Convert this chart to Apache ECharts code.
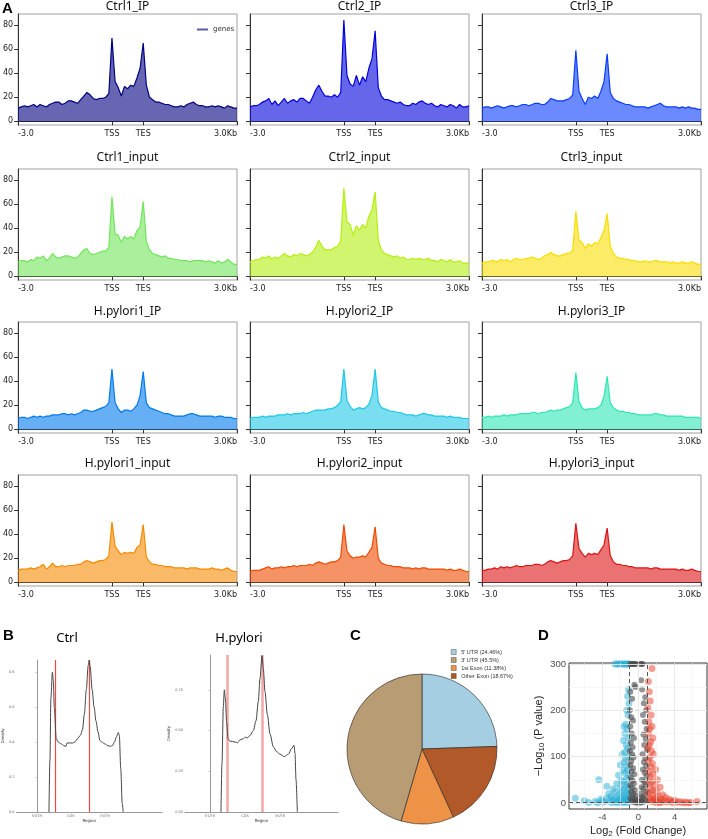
<!DOCTYPE html>
<html><head><meta charset="utf-8">
<script src="https://cdn.jsdelivr.net/npm/echarts@6/dist/echarts.min.js"></script>
<style>html,body{margin:0;padding:0;background:#fff}#c{width:708px;height:839px}</style>
</head><body><div id="c"></div>
<script>
// ---------- Panel A data ----------
const profileTicks = [0, 30, 40, 70];
const profileTickLabels = ['-3.0', 'TSS', 'TES', '3.0Kb'];
const profileYTicks = [0, 20, 40, 60, 80];
const sampleTitles = ['Ctrl1_IP','Ctrl2_IP','Ctrl3_IP','Ctrl1_input','Ctrl2_input','Ctrl3_input','H.pylori1_IP','H.pylori2_IP','H.pylori3_IP','H.pylori1_input','H.pylori2_input','H.pylori3_input'];
const ctrl1IP = [11,12,13,12,13,14,12,14,13,12, 14,15,16,16,14,15,17,17,16,15, 18,21,24,22,19,18,19,19,20,23, 69, 33,28,21,29,27,30,29,36,44, 65, 30,20,18,16,16,15,14,14,13,12, 12,13,12,14,15,16,14,13,13,12, 12,13,12,13,12,11,13,12,11,11];
const ctrl2IP = [12,13,13,14,16,17,19,14,17,13, 16,19,15,17,18,16,19,19,17,15, 20,26,30,25,21,21,20,22,20,24, 84, 38,31,29,38,30,37,33,44,52, 75, 28,21,18,18,17,16,15,16,14,13, 13,15,14,16,17,15,14,15,13,12, 14,13,12,14,13,11,14,12,12,13];
const ctrl3IP = [11,12,12,11,12,13,12,11,12,13, 13,12,13,14,14,13,14,15,15,14, 14,16,19,18,17,17,17,18,19,22, 59, 25,19,14,20,19,21,19,25,33, 56, 24,19,17,16,15,14,14,13,12,12, 12,12,11,12,13,14,15,13,12,12, 12,12,11,12,11,12,11,11,10,10];
const ctrl1Input = [12,13,13,12,14,13,16,15,17,13, 15,19,16,15,16,17,17,16,15,16, 19,22,23,19,18,19,20,21,21,24, 66, 35,34,28,33,31,33,31,38,41, 62, 29,22,19,18,17,16,17,15,15,14, 14,13,13,13,12,13,13,13,13,12, 13,12,11,13,11,12,14,12,10,10];
const ctrl2Input = [12,13,14,14,16,15,17,14,16,15, 17,19,17,16,18,17,19,18,17,18, 20,24,30,25,22,22,22,24,25,29, 73, 45,43,34,42,38,43,40,50,55, 70, 30,22,19,18,17,16,17,15,16,14, 14,15,14,15,14,14,15,13,13,12, 14,13,12,14,12,12,13,11,11,11];
const ctrl3Input = [11,12,12,13,13,12,14,13,14,12, 14,15,14,14,15,15,16,15,14,15, 17,18,20,18,17,17,18,19,19,22, 54, 30,28,23,27,25,28,27,32,38, 52, 25,19,16,15,15,14,14,13,13,12, 12,13,12,12,13,13,12,12,12,11, 12,11,11,12,11,11,12,11,10,10];
const hp1IP = [9,10,10,9,10,11,10,11,10,11, 11,12,12,12,13,13,12,13,12,13, 14,16,16,15,15,16,17,18,19,22, 50, 22,17,14,16,16,15,17,20,28, 48, 22,18,17,16,15,14,13,13,12,11, 11,11,11,12,13,13,12,11,11,11, 11,11,10,11,11,10,10,10,9,9];
const hp2IP = [9,10,10,10,11,10,11,11,11,12, 12,12,13,12,13,13,13,14,13,14, 15,16,16,16,16,17,17,18,20,23, 50, 24,19,16,17,18,17,18,21,28, 50, 23,18,17,16,15,15,14,14,13,12, 12,12,11,12,13,13,12,12,11,11, 11,11,10,11,10,10,10,9,9,9];
const hp3IP = [10,10,11,10,11,11,11,12,11,12, 12,12,13,13,13,13,14,14,13,14, 14,15,16,15,16,16,17,18,19,22, 47, 23,18,16,17,17,17,18,20,27, 44, 22,18,16,15,15,14,14,13,13,12, 12,12,12,12,13,13,12,12,11,11, 11,11,11,11,10,10,10,10,10,9];
const hp1Input = [10,11,11,11,12,11,12,13,15,11, 13,16,13,13,14,13,14,14,14,15, 15,17,18,17,16,17,18,18,19,22, 50, 30,26,23,25,24,25,24,29,31, 48, 21,17,15,15,14,14,13,13,13,12, 12,12,12,11,12,12,12,11,11,11, 11,12,11,11,10,11,12,10,9,9];
const hp2Input = [9,10,10,10,11,12,13,11,12,12, 13,12,13,13,14,13,14,14,14,15, 14,16,17,16,15,16,17,17,18,21, 48, 26,22,20,21,21,22,21,25,29, 46, 20,16,15,14,14,13,13,13,12,12, 12,11,12,11,12,12,11,11,11,11, 11,11,10,11,10,10,11,10,9,9];
const hp3Input = [10,10,11,11,12,11,13,12,13,12, 13,14,13,13,14,14,14,15,15,14, 15,17,18,17,16,17,18,18,19,22, 49, 28,24,21,24,23,24,23,27,31, 45, 22,17,15,15,14,14,13,13,12,12, 12,12,12,11,12,12,11,11,11,11, 11,11,10,11,10,10,11,10,9,9];
const profiles = [ctrl1IP, ctrl2IP, ctrl3IP, ctrl1Input, ctrl2Input, ctrl3Input, hp1IP, hp2IP, hp3IP, hp1Input, hp2Input, hp3Input];

// ---------- Panel B data ----------
const regionTicks = [0, 1, 2];
const regionTickLabels = ["5'UTR", 'CDS', "3'UTR"];
const ctrlRegionX = [0.357,0.386,0.414,0.457,0.486,0.514,0.571,0.629,0.714,0.8,0.857,0.886,0.971,1.057,1.114,1.2,1.286,1.343,1.4,1.457,1.514,1.543,1.571,1.629,1.686,1.743,1.8,1.857,1.914,2.0,2.086,2.171,2.229,2.286,2.343,2.4,2.429,2.471,2.514,2.543];
const ctrlDensity = [0,0.3,0.65,0.8,0.75,0.6,0.42,0.40,0.39,0.38,0.375,0.395,0.395,0.395,0.40,0.42,0.44,0.47,0.56,0.70,0.84,0.87,0.83,0.70,0.60,0.52,0.46,0.41,0.40,0.39,0.38,0.376,0.38,0.40,0.43,0.455,0.44,0.25,0.05,0];
const ctrlMarks = [0.543, 1.543];
const ctrlDensityTicks = [0, 0.2, 0.4, 0.6, 0.8];
const hpRegionX = [0.314,0.343,0.381,0.41,0.438,0.476,0.514,0.571,0.714,0.79,0.838,0.886,0.952,1.01,1.067,1.143,1.238,1.314,1.381,1.429,1.486,1.524,1.571,1.638,1.714,1.81,1.905,2.0,2.124,2.238,2.333,2.4,2.429,2.457,2.495];
const hpDensity = [0,0.3,0.65,0.75,0.70,0.55,0.45,0.435,0.43,0.425,0.44,0.445,0.45,0.46,0.455,0.47,0.5,0.56,0.68,0.82,0.96,0.88,0.74,0.6,0.48,0.40,0.37,0.355,0.34,0.355,0.39,0.41,0.36,0.2,0];
const hpMarks = [0.486, 1.486];
const hpDensityTicks = [0, 0.25, 0.5, 0.75];

// ---------- Panel C data ----------
const pieNames = ["5' UTR (24.46%)", "Other Exon (18.67%)", "1st Exon (11.38%)", "3' UTR (45.5%)"];
const pieValues = [24.46, 18.67, 11.38, 45.5];
const pieLegendOrder = ["5' UTR (24.46%)", "3' UTR (45.5%)", "1st Exon (11.38%)", "Other Exon (18.67%)"];

// ---------- Panel D data ----------
const volcanoXTicks = [-4, 0, 4];
const volcanoYTicks = [0, 100, 200, 300];
const volcanoXMinor = [-6, -2, 2, 6];
const volcanoYMinor = [50, 150, 250];
const foldThresholds = [-1, 1];
const pThreshold = 1.3;
const downPts = [[-2.6,300],[-2.4,300],[-2.2,300],[-2.0,300],[-1.8,300],[-1.6,300],[-1.5,300],[-1.3,300],[-1.2,300],[-1.1,300],
 [-1.1,245],[-1.2,230],[-1.05,215],[-1.3,200],[-1.15,190],[-1.4,170],[-1.6,165],[-1.25,160],[-1.5,150],[-1.1,140],[-1.7,135],[-1.35,125],[-1.2,118],[-1.5,110],[-1.8,105],[-1.1,100],[-1.4,95],[-1.6,88],[-2.0,82],[-1.3,80],[-1.2,72],[-1.7,70],[-1.5,65],[-2.2,60],[-1.1,58],[-1.35,52],[-1.9,48],[-1.6,45],[-2.4,42],[-1.25,40],[-1.45,36],[-2.0,33],[-1.15,30],[-1.7,28],[-2.6,25],[-1.3,24],[-1.9,22],[-1.05,20],[-2.2,18],[-1.5,17],[-3.0,15],[-1.2,14],[-1.8,13],[-2.5,12],[-1.4,11],[-3.5,10],[-2.0,9],[-1.1,8],[-2.8,8],[-1.6,7],[-3.2,6],[-4.0,5],[-2.3,5],[-1.3,4],[-1.9,4],[-4.8,3],[-2.7,3],[-1.5,2],[-3.8,2],[-2.1,2],[-1.2,1],[-5.5,1],[-3.0,1],[-1.7,1],[-4.5,0.5],[-2.4,0.5],
 [-4.4,50],[-3.5,36],[-7.0,10],[-6.0,5],[-4.2,8],[-3.3,20],[-2.8,30]];
const nsPts = [[-0.9,300],[-0.8,300],[-0.7,300],[-0.6,300],[-0.5,300],[-0.4,300],[-0.3,300],[0.25,300],[0.35,300],[0.45,300],
 [-0.45,255],[-0.35,250],[-0.9,240],[-0.7,225],[-0.95,200],[-0.8,185],[-0.6,178],[-0.9,165],[-0.75,150],[-0.5,140],[-0.85,130],[-0.65,120],[-0.95,112],[-0.7,105],[-0.55,98],[-0.8,90],[-0.9,82],[-0.6,75],[-0.75,68],[-0.45,62],[-0.85,55],[-0.65,48],[-0.5,42],[-0.9,38],[-0.7,33],[-0.4,28],[-0.8,24],[-0.55,20],[-0.3,16],[-0.65,13],[-0.9,10],[-0.45,8],[-0.2,6],[-0.75,5],[-0.35,3],[-0.6,2],[-0.1,1],[-0.25,0.5],
 [0.3,265],[0.4,245],[0.75,228],[0.6,215],[0.85,200],[0.5,190],[0.7,175],[0.9,160],[0.55,148],[0.8,138],[0.65,125],[0.95,115],[0.45,105],[0.75,96],[0.6,88],[0.85,80],[0.5,72],[0.7,65],[0.9,58],[0.4,50],[0.65,45],[0.8,40],[0.35,34],[0.55,30],[0.9,25],[0.25,20],[0.7,17],[0.45,13],[0.15,10],[0.6,8],[0.85,6],[0.3,4],[0.05,2],[0.5,1.5],[0.2,0.5]];
const upPts = [[1.5,290],[1.1,262],[1.2,240],[1.3,220],[1.05,205],[1.4,190],[1.15,175],[1.5,165],[1.25,160],[1.1,150],[1.6,140],[1.35,132],[1.2,125],[1.05,118],[1.45,112],[1.7,105],[1.25,98],[1.1,92],[1.55,85],[1.35,78],[1.9,72],[1.15,68],[1.6,62],[1.3,56],[2.1,50],[1.45,46],[1.2,42],[1.8,38],[2.4,34],[1.35,30],[1.6,27],[2.0,24],[1.1,21],[2.7,18],[1.5,16],[2.2,14],[3.0,12],[1.3,11],[1.9,10],[3.4,8],[2.5,8],[1.7,7],[4.0,6],[2.8,5],[1.2,5],[3.6,4],[2.1,4],[4.6,3],[1.5,3],[3.2,2],[5.2,2],[2.6,2],[4.3,1.5],[5.8,1],[6.5,3],[1.9,1],[3.8,1],[5.5,0.5],[2.3,0.5],[4.9,0.5]];

// ---------- styles ----------
const sampleColors = ['#000080','#0000dc','#0a3cff','#71e55a','#b4ee0f','#f8de00','#007aee','#1ec8e6','#2fe6b4','#f58a00','#ee4a00','#dc1414'];
const pieColors = ['#a6cee3', '#b15928', '#ee9247', '#b89c74'];
const TF = 'DejaVu Sans';

const grids = [], xAxes = [], yAxes = [], series = [], graphics = [];
const colLeft = [18, 250, 482], rowTop = [14, 169, 322, 475], titleY = [7, 158, 312, 464];
const profileBins = profiles[0].map((_, k) => String(k));

profiles.forEach((d, i) => {
  const r = Math.floor(i / 3), c = i % 3;
  grids.push({left: colLeft[c], top: rowTop[r], width: 219, height: 111, show: true, borderColor: '#888', borderWidth: 0.8});
  xAxes.push({type: 'category', gridIndex: i, data: profileBins, boundaryGap: false,
    axisLine: {lineStyle: {color: '#333', width: 1}},
    axisTick: {interval: (idx) => profileTicks.includes(idx), length: 4, lineStyle: {color: '#333'}},
    axisLabel: {interval: (idx) => profileTicks.includes(idx), formatter: (v, idx) => profileTickLabels[profileTicks.indexOf(idx)],
      fontSize: 8, color: '#222', fontFamily: TF, margin: 5, alignMinLabel: 'left', alignMaxLabel: 'right'},
    splitLine: {show: false}});
  yAxes.push({type: 'value', gridIndex: i, min: -3, max: 89,
    axisLine: {show: true, lineStyle: {color: '#333', width: 1}},
    axisTick: {show: true, customValues: profileYTicks, length: 4, lineStyle: {color: '#333'}},
    axisLabel: {show: c === 0, customValues: profileYTicks, fontSize: 8, color: '#222', fontFamily: TF, margin: 5},
    splitLine: {show: false}});
  series.push({type: 'line', name: i === 0 ? 'genes' : sampleTitles[i], xAxisIndex: i, yAxisIndex: i, data: d,
    symbol: 'none', lineStyle: {color: sampleColors[i], width: 1.2}, itemStyle: {color: sampleColors[i]},
    areaStyle: {color: sampleColors[i], opacity: 0.6}, z: 2});
  graphics.push({type: 'text', x: colLeft[c] + 109.5, y: titleY[r], silent: true,
    style: {text: sampleTitles[i], fill: '#111', font: '12px "Noto Sans"', textAlign: 'center', textVerticalAlign: 'middle'}});
});

// ---------- Panel B ----------
function densityPanel(gi, left, top, width, height, xmin, xmax, xs, ys, marks, yTicks, ymax, decimals, markStyle) {
  grids.push({left, top, width, height, show: false});
  xAxes.push({type: 'value', gridIndex: gi, min: xmin, max: xmax,
    axisLine: {show: true, lineStyle: {color: '#999', width: 1.2}},
    axisTick: {show: true, customValues: regionTicks, length: 1.5, lineStyle: {color: '#999', width: 0.5}},
    axisLabel: {customValues: regionTicks, formatter: (v) => regionTickLabels[regionTicks.indexOf(v)], fontSize: 3.5, color: '#666', margin: 2},
    splitLine: {show: false},
    name: 'Region', nameLocation: 'middle', nameGap: 6, nameTextStyle: {fontSize: 4, color: '#333'}});
  yAxes.push({type: 'value', gridIndex: gi, min: 0, max: ymax,
    axisLine: {show: true, lineStyle: {color: '#999', width: 1}},
    axisTick: {show: true, customValues: yTicks, length: 1.5, lineStyle: {color: '#999', width: 0.5}},
    axisLabel: {customValues: yTicks, formatter: (v) => v.toFixed(decimals), fontSize: 3.5, color: '#666', margin: 2},
    splitLine: {show: false},
    name: 'Density', nameLocation: 'middle', nameGap: 6, nameRotate: 90, nameTextStyle: {fontSize: 4, color: '#333'}});
  series.push({type: 'line', xAxisIndex: gi, yAxisIndex: gi, data: xs.map((x, k) => [x, ys[k]]),
    symbol: 'none', smooth: 0.3, smoothMonotone: 'x', lineStyle: {color: '#444', width: 1}, z: 3,
    markLine: {silent: true, symbol: ['none', 'none'], label: {show: false}, lineStyle: markStyle, z: 2,
      data: marks.map(m => ({xAxis: m, lineStyle: markStyle}))}});
}
densityPanel(12, 12, 660, 150, 152, -0.6, 3.686, ctrlRegionX, ctrlDensity, ctrlMarks, ctrlDensityTicks, 0.87, 1,
  {color: '#e53935', width: 1.2, type: 'solid', opacity: 0.9});
densityPanel(13, 185, 655, 153, 157, -0.714, 3.657, hpRegionX, hpDensity, hpMarks, hpDensityTicks, 0.964, 2,
  {color: '#f08a8a', width: 2.5, type: 'solid', opacity: 0.75});

// ---------- Panel D ----------
grids.push({left: 569, top: 663, width: 138, height: 149, show: true, borderColor: '#333', borderWidth: 1, backgroundColor: '#fff'});
xAxes.push({type: 'value', gridIndex: 14, min: -7.7, max: 7.6,
  axisLine: {show: false}, splitLine: {show: false},
  axisTick: {show: true, customValues: volcanoXTicks, length: 3, lineStyle: {color: '#333'}},
  axisLabel: {customValues: volcanoXTicks, fontSize: 9.5, color: '#4d4d4d', fontFamily: 'Liberation Sans', margin: 3},
  name: '{a|Log}{b|2}{a| (Fold Change)}', nameLocation: 'middle', nameGap: 15,
  nameTextStyle: {rich: {a: {fontSize: 11, color: '#222', fontFamily: 'Liberation Sans'}, b: {fontSize: 8, color: '#222', fontFamily: 'Liberation Sans', padding: [6, 0, 0, 0]}}}});
yAxes.push({type: 'value', gridIndex: 14, min: -13, max: 302,
  axisLine: {show: false}, splitLine: {show: false},
  axisTick: {show: true, customValues: volcanoYTicks, length: 3, lineStyle: {color: '#333'}},
  axisLabel: {customValues: volcanoYTicks, fontSize: 9.5, color: '#4d4d4d', fontFamily: 'Liberation Sans', margin: 3},
  name: '{a|\u2212Log}{b|10}{a| (P value)}', nameLocation: 'middle', nameGap: 21, nameRotate: 90,
  nameTextStyle: {rich: {a: {fontSize: 11, color: '#222', fontFamily: 'Liberation Sans'}, b: {fontSize: 8, color: '#222', fontFamily: 'Liberation Sans', padding: [6, 0, 0, 0]}}}});
const gl = (arr, axis) => arr.map(v => ({[axis]: v}));
series.push({type: 'scatter', xAxisIndex: 14, yAxisIndex: 14, data: [], z: 0, silent: true,
  markLine: {silent: true, symbol: ['none', 'none'], label: {show: false}, animation: false,
    data: [...gl(volcanoXMinor, 'xAxis'), ...gl(volcanoYMinor, 'yAxis')].map(o => Object.assign(o, {lineStyle: {color: '#f2f2f2', width: 0.6, type: 'solid'}}))
      .concat([...gl(volcanoXTicks, 'xAxis'), ...gl(volcanoYTicks, 'yAxis')].map(o => Object.assign(o, {lineStyle: {color: '#e6e6e6', width: 0.9, type: 'solid'}})))}});
series.push({type: 'scatter', xAxisIndex: 14, yAxisIndex: 14, data: downPts, symbolSize: 7, itemStyle: {color: '#2bb0d6', opacity: 0.5}, z: 2});
series.push({type: 'scatter', xAxisIndex: 14, yAxisIndex: 14, data: nsPts, symbolSize: 6, itemStyle: {color: '#4d4d4d', opacity: 0.6}, z: 2});
series.push({type: 'scatter', xAxisIndex: 14, yAxisIndex: 14, data: upPts, symbolSize: 7, itemStyle: {color: '#e8402a', opacity: 0.5}, z: 2});
series.push({type: 'scatter', xAxisIndex: 14, yAxisIndex: 14, data: [], z: 4, silent: true,
  markLine: {silent: true, symbol: ['none', 'none'], label: {show: false},
    lineStyle: {color: '#555', width: 1, type: [4, 3]},
    data: [...gl(foldThresholds, 'xAxis'), {yAxis: pThreshold}]}});

// ---------- Panel C ----------
series.push({type: 'pie', center: [422, 749], radius: 75, startAngle: 90, clockwise: true,
  label: {show: false}, labelLine: {show: false}, silent: true,
  itemStyle: {borderColor: '#222', borderWidth: 0.6},
  data: pieNames.map((n, k) => ({name: n, value: pieValues[k], itemStyle: {color: pieColors[k]}}))});

// ---------- labels ----------
const lbl = (t, x, y) => ({type: 'text', x, y, silent: true, style: {text: t, fill: '#000', font: 'bold 15px "Liberation Sans"'}});
graphics.push(lbl('A', 2, 1), lbl('B', 3, 628), lbl('C', 350, 628), lbl('D', 538, 628));
graphics.push({type: 'text', x: 67, y: 638, silent: true, style: {text: 'Ctrl', fill: '#000', font: '13px "Noto Sans"', textAlign: 'center', textVerticalAlign: 'middle'}});
graphics.push({type: 'text', x: 239, y: 638, silent: true, style: {text: 'H.pylori', fill: '#000', font: '13px "Noto Sans"', textAlign: 'center', textVerticalAlign: 'middle'}});

const chart = echarts.init(document.getElementById('c'), null, {renderer: 'canvas'});
chart.setOption({
  animation: false,
  backgroundColor: '#fff',
  textStyle: {fontFamily: TF},
  legend: [
    {data: [{name: 'genes', icon: 'rect', itemStyle: {color: '#5a5aa8'}}], left: 192, top: 21, itemWidth: 11, itemHeight: 2, itemGap: 3,
      textStyle: {fontSize: 7, color: '#333'}, selectedMode: false},
    {data: pieLegendOrder.map(n => ({name: n, icon: 'rect'})), orient: 'vertical', left: 446, top: 644, itemWidth: 5, itemHeight: 5, itemGap: 2,
      textStyle: {fontSize: 5.5, color: '#333', fontFamily: 'Liberation Sans'}, selectedMode: false, itemStyle: {borderColor: '#333', borderWidth: 0.4}}
  ],
  grid: grids, xAxis: xAxes, yAxis: yAxes, series, graphic: graphics
});
</script></body></html>
